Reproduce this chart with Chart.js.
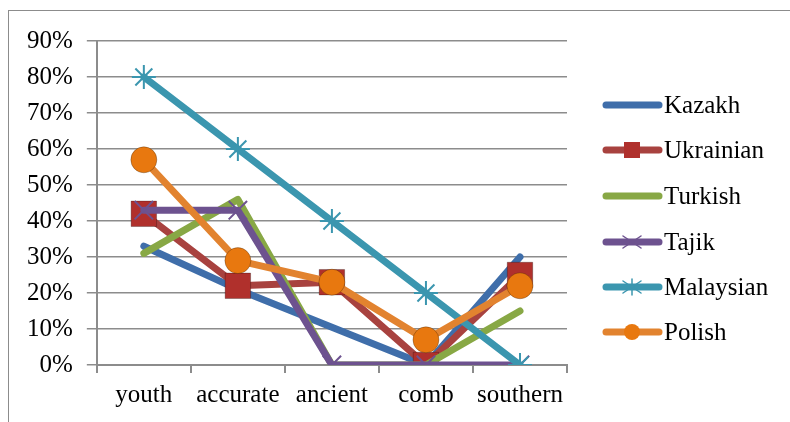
<!DOCTYPE html>
<html>
<head>
<meta charset="utf-8">
<script src="https://cdn.jsdelivr.net/npm/chart.js@4"></script>
<style>
  body { margin: 0; background: #fff; font-family: 'Liberation Serif', serif; }
  #wrap { width: 790px; height: 422px; position: relative; }
</style>
</head>
<body>
<div id="wrap"><canvas id="myChart" width="790" height="422"></canvas></div>
<script>
const categorias = ["youth", "accurate", "ancient", "comb", "southern"];
const kazakh = [0.33, 0.21, 0.105, 0, 0.30];
const ukrainian = [0.42, 0.22, 0.23, 0, 0.25];
const turkish = [0.31, 0.46, 0, 0, 0.15];
const tajik = [0.43, 0.43, 0, 0, 0];
const malaysian = [0.80, 0.60, 0.40, 0.20, 0];
const polish = [0.57, 0.29, 0.23, 0.07, 0.22];

const fuente = "'Liberation Serif', 'DejaVu Serif', serif";

function serie(label, data, color, estilo, radio, orden, relleno) {
    const esCruz = estilo === "crossRot" || estilo === "star";
    return {
        label: label,
        data: data,
        order: orden,
        borderColor: color,
        backgroundColor: relleno || color,
        borderWidth: 7,
        borderCapStyle: "round",
        borderJoinStyle: "round",
        pointStyle: estilo,
        pointRadius: radio,
        pointHoverRadius: radio,
        pointBorderColor: esCruz ? color : "rgba(0,0,0,0.25)",
        pointBorderWidth: esCruz ? 2 : 1,
        tension: 0
    };
}

// orden: como en Excel, la ultima serie queda encima
const datasets = [
    serie("Kazakh", kazakh, "#3F6EAA", "circle", 0, 5),
    serie("Ukrainian", ukrainian, "#A8423F", "rect", 18, 4, "#B0302C"),
    serie("Turkish", turkish, "#88A845", "circle", 0, 3),
    serie("Tajik", tajik, "#6D528F", "crossRot", 13, 2),
    serie("Malaysian", malaysian, "#3B96AF", "star", 12, 1),
    serie("Polish", polish, "#E2832F", "circle", 13, 0, "#E8780F")
];

// leyenda dibujada a mano para imitar el estilo de Excel
const leyenda = {
    id: "leyenda",
    afterDraw(chart) {
        const ctx = chart.ctx;
        ctx.save();
        // marco exterior
        ctx.strokeStyle = "#8c8c8c";
        ctx.lineWidth = 1;
        ctx.strokeRect(8.5, 10.5, 790, 420);
        const ys = [105, 150, 196, 242, 287, 332];
        const font = Chart.helpers.toFont({ family: fuente, size: 25 });
        chart.data.datasets.forEach((ds, i) => {
            const y = ys[i];
            ctx.strokeStyle = ds.borderColor;
            ctx.lineWidth = 7;
            ctx.lineCap = "round";
            ctx.beginPath();
            ctx.moveTo(606, y);
            ctx.lineTo(659, y);
            ctx.stroke();
            const cx = 632;
            if (ds.pointStyle === "rect") {
                ctx.fillStyle = ds.backgroundColor;
                ctx.fillRect(cx - 8, y - 8, 16, 16);
            } else if (ds.pointStyle === "circle" && ds.pointRadius > 0) {
                ctx.fillStyle = ds.backgroundColor;
                ctx.beginPath();
                ctx.arc(cx, y, 8, 0, Math.PI * 2);
                ctx.fill();
            } else if (ds.pointStyle === "crossRot" || ds.pointStyle === "star") {
                ctx.strokeStyle = ds.borderColor;
                ctx.lineWidth = 1.5;
                ctx.beginPath();
                ctx.moveTo(cx - 9, y - 6); ctx.lineTo(cx + 9, y + 6);
                ctx.moveTo(cx - 9, y + 6); ctx.lineTo(cx + 9, y - 6);
                if (ds.pointStyle === "star") { ctx.moveTo(cx, y - 8); ctx.lineTo(cx, y + 8); }
                ctx.stroke();
            }
            Chart.helpers.renderText(ctx, ds.label, 664, y + 1, font, {
                color: "#000", textAlign: "left", textBaseline: "middle"
            });
        });
        ctx.restore();
    }
};

function renderGrafica() {
    new Chart(document.getElementById("myChart"), {
        type: "line",
        data: { labels: categorias, datasets: datasets },
        options: {
            responsive: false,
            animation: false,
            layout: { padding: { left: 13, top: 41, right: 223, bottom: 5 } },
            plugins: { legend: { display: false }, tooltip: { enabled: false } },
            scales: {
                x: {
                    offset: true,
                    grid: { offset: true, drawOnChartArea: false, color: "#8c8c8c", tickLength: 8, lineWidth: 2 },
                    border: { color: "#8c8c8c", width: 2 },
                    ticks: { color: "#000", font: { family: fuente, size: 25 }, padding: 7, maxRotation: 0 }
                },
                y: {
                    min: 0,
                    max: 0.9,
                    grid: { color: "#8c8c8c", tickLength: 10, lineWidth: 1.5 },
                    border: { color: "#8c8c8c", width: 2 },
                    ticks: {
                        stepSize: 0.1,
                        color: "#000",
                        font: { family: fuente, size: 25 },
                        padding: 14,
                        callback: (v) => Math.round(v * 100) + "%"
                    }
                }
            }
        },
        plugins: [leyenda]
    });
}

document.fonts.load("25px 'Liberation Serif'").then(renderGrafica, renderGrafica);
</script>
</body>
</html>
